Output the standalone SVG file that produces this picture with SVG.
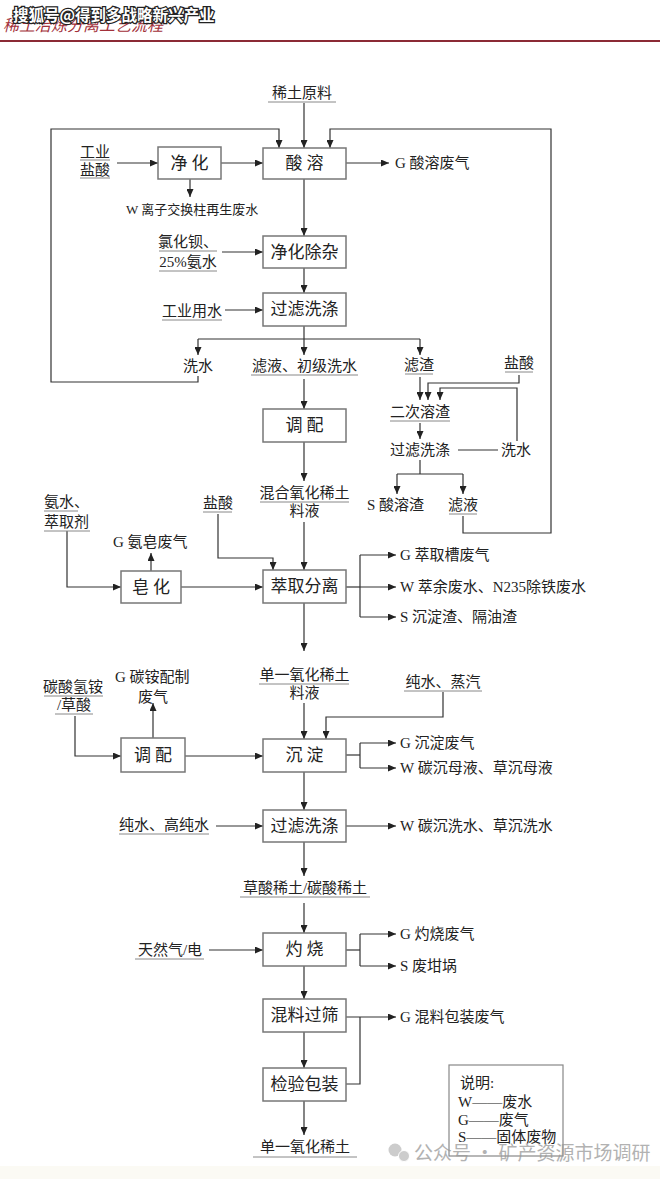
<svg xmlns="http://www.w3.org/2000/svg" width="660" height="1179" viewBox="0 0 660 1179">
<defs>
<marker id="ah" markerWidth="8" markerHeight="7" refX="8" refY="3.5" orient="auto" markerUnits="userSpaceOnUse"><path d="M0,0 L8,3.5 L0,7 z" fill="#222"/></marker>
<style>
text{font-family:"Liberation Serif","Noto Sans CJK SC",serif;fill:#222}
.box{fill:#fff;stroke:#777;stroke-width:1.5}
.bt{font-size:17px;text-anchor:middle;dominant-baseline:central}
.lb{font-size:15px;dominant-baseline:central}
.c{text-anchor:middle}
.sm{font-size:13px}
.ul{stroke:#888;stroke-width:1}
.cn line,.cn polyline{fill:none;stroke:#333;stroke-width:1.2}
.ar{marker-end:url(#ah)}
</style>
</defs>
<rect width="660" height="1179" fill="#fff"/>
<rect x="0" y="1166" width="660" height="13" fill="#fbfaf4"/>
<!-- header -->
<text x="3" y="31" font-size="16" font-style="italic" style="fill:#a3313a">稀土冶炼分离工艺流程</text>
<rect x="0" y="40" width="660" height="2" fill="#8b2a35"/>
<text x="13" y="21" font-size="15.5" font-weight="bold" style="fill:#fff;stroke:#222;stroke-width:2.5;paint-order:stroke;font-family:'Noto Sans CJK SC',sans-serif">搜狐号@得到多战略新兴产业</text>

<!-- connectors -->
<g id="connectors" class="cn">
<line class="ar" x1="304" y1="103" x2="304" y2="148"/>
<polyline class="ar" points="198,376 198,382 51,382 51,129 279,129 279,148"/>
<polyline class="ar" points="463,516 463,533 551,533 551,129 330,129 330,148"/>
<line class="ar" x1="117" y1="163" x2="158" y2="163"/>
<line class="ar" x1="221" y1="163" x2="263" y2="163"/>
<line class="ar" x1="190" y1="179" x2="190" y2="197"/>
<line class="ar" x1="346" y1="163" x2="389" y2="163"/>
<line class="ar" x1="304" y1="179" x2="304" y2="236"/>
<line class="ar" x1="222" y1="252" x2="263" y2="252"/>
<line class="ar" x1="304" y1="268" x2="304" y2="293"/>
<line class="ar" x1="225" y1="310" x2="263" y2="310"/>
<line x1="304" y1="326" x2="304" y2="339"/>
<line x1="198" y1="339" x2="420" y2="339"/>
<line class="ar" x1="198" y1="339" x2="198" y2="355"/>
<line class="ar" x1="304" y1="339" x2="304" y2="355"/>
<line class="ar" x1="420" y1="339" x2="420" y2="355"/>
<line class="ar" x1="304" y1="379" x2="304" y2="409"/>
<line class="ar" x1="420" y1="377" x2="420" y2="400"/>
<polyline class="ar" points="519,375 519,383 428,383 428,400"/>
<polyline class="ar" points="517,441 517,388 440,388 440,400"/>
<line class="ar" x1="420" y1="423" x2="420" y2="439"/>
<line x1="458" y1="450" x2="498" y2="450"/>
<line x1="420" y1="460" x2="420" y2="474"/>
<line x1="397" y1="474" x2="463" y2="474"/>
<line class="ar" x1="397" y1="474" x2="397" y2="494"/>
<line class="ar" x1="463" y1="474" x2="463" y2="494"/>
<line class="ar" x1="304" y1="442" x2="304" y2="481"/>
<line class="ar" x1="304" y1="522" x2="304" y2="570"/>
<polyline class="ar" points="218,514 218,558 273,558 273,570"/>
<polyline class="ar" points="67,531 67,587 121,587"/>
<line class="ar" x1="151" y1="571" x2="151" y2="553"/>
<line class="ar" x1="181" y1="587" x2="263" y2="587"/>
<line x1="346" y1="587" x2="360" y2="587"/>
<line x1="360" y1="555" x2="360" y2="617"/>
<line class="ar" x1="360" y1="555" x2="396" y2="555"/>
<line class="ar" x1="360" y1="587" x2="396" y2="587"/>
<line class="ar" x1="360" y1="617" x2="396" y2="617"/>
<line class="ar" x1="304" y1="603" x2="304" y2="651"/>
<line class="ar" x1="304" y1="703" x2="304" y2="739"/>
<polyline class="ar" points="443,692 443,717 326,717 326,739"/>
<polyline class="ar" points="75,716 75,756 121,756"/>
<line class="ar" x1="153" y1="738" x2="153" y2="703"/>
<line class="ar" x1="185" y1="756" x2="263" y2="756"/>
<line x1="346" y1="755" x2="360" y2="755"/>
<line x1="360" y1="743" x2="360" y2="768"/>
<line class="ar" x1="360" y1="743" x2="396" y2="743"/>
<line class="ar" x1="360" y1="768" x2="396" y2="768"/>
<line class="ar" x1="304" y1="772" x2="304" y2="810"/>
<line class="ar" x1="216" y1="826" x2="263" y2="826"/>
<line class="ar" x1="346" y1="826" x2="396" y2="826"/>
<line class="ar" x1="304" y1="842" x2="304" y2="876"/>
<line class="ar" x1="304" y1="903" x2="304" y2="933"/>
<line class="ar" x1="209" y1="950" x2="263" y2="950"/>
<line x1="346" y1="950" x2="360" y2="950"/>
<line x1="360" y1="934" x2="360" y2="966"/>
<line class="ar" x1="360" y1="934" x2="396" y2="934"/>
<line class="ar" x1="360" y1="966" x2="396" y2="966"/>
<line class="ar" x1="304" y1="966" x2="304" y2="999"/>
<line class="ar" x1="346" y1="1017" x2="396" y2="1017"/>
<polyline points="346,1084 360,1084 360,1017"/>
<line class="ar" x1="304" y1="1032" x2="304" y2="1068"/>
<line class="ar" x1="304" y1="1101" x2="304" y2="1135"/>
</g>

<!-- process nodes -->
<g id="n-suanrong"><rect class="box" x="263" y="148" width="83" height="31"/><text class="bt" x="304.5" y="163.5">酸 溶</text></g>
<g id="n-jinghua"><rect class="box" x="158" y="147" width="63" height="32"/><text class="bt" x="189.5" y="163">净 化</text></g>
<g id="n-jinghuachuza"><rect class="box" x="263" y="236" width="83" height="32"/><text class="bt" x="304.5" y="252">净化除杂</text></g>
<g id="n-guolv1"><rect class="box" x="263" y="293" width="83" height="33"/><text class="bt" x="304.5" y="309.5">过滤洗涤</text></g>
<g id="n-tiaopei1"><rect class="box" x="263" y="409" width="83" height="33"/><text class="bt" x="304.5" y="425.5">调 配</text></g>
<g id="n-cuiqu"><rect class="box" x="263" y="570" width="83" height="33"/><text class="bt" x="304.5" y="586.5">萃取分离</text></g>
<g id="n-zaohua"><rect class="box" x="121" y="571" width="60" height="32"/><text class="bt" x="151" y="587">皂 化</text></g>
<g id="n-chendian"><rect class="box" x="263" y="739" width="83" height="33"/><text class="bt" x="304.5" y="755.5">沉 淀</text></g>
<g id="n-tiaopei2"><rect class="box" x="121" y="738" width="64" height="34"/><text class="bt" x="153" y="755">调 配</text></g>
<g id="n-guolv2"><rect class="box" x="263" y="810" width="83" height="32"/><text class="bt" x="304.5" y="826">过滤洗涤</text></g>
<g id="n-zhuoshao"><rect class="box" x="263" y="933" width="83" height="33"/><text class="bt" x="304.5" y="949.5">灼 烧</text></g>
<g id="n-hunliao"><rect class="box" x="263" y="999" width="83" height="33"/><text class="bt" x="304.5" y="1015.5">混料过筛</text></g>
<g id="n-jianyan"><rect class="box" x="263" y="1068" width="83" height="33"/><text class="bt" x="304.5" y="1084.5">检验包装</text></g>

<!-- material / waste labels -->
<g id="t-yuanliao"><text class="lb c" x="302" y="93" font-size="17">稀土原料</text><line class="ul" x1="268" y1="102" x2="336" y2="102"/></g>
<g id="t-gongyeyansuan"><text class="lb c" x="95" y="152">工业</text><line class="ul" x1="80" y1="160" x2="110" y2="160"/><text class="lb c" x="95" y="170">盐酸</text><line class="ul" x1="80" y1="178" x2="110" y2="178"/></g>
<g id="t-w1"><text class="lb sm" x="126" y="209">W 离子交换柱再生废水</text></g>
<g id="t-g1"><text class="lb" x="395" y="163">G 酸溶废气</text></g>
<g id="t-lvhuabei"><text class="lb c" x="188" y="242">氯化钡、</text><line class="ul" x1="159" y1="251" x2="217" y2="251"/><text class="lb c" x="188" y="262">25%氨水</text><line class="ul" x1="159" y1="271" x2="217" y2="271"/></g>
<g id="t-gongyeyongshui"><text class="lb c" x="192" y="311">工业用水</text><line class="ul" x1="162" y1="320" x2="222" y2="320"/></g>
<g id="t-xishui1"><text class="lb c" x="198" y="366">洗水</text></g>
<g id="t-lvye1"><text class="lb c" x="304.5" y="366">滤液、初级洗水</text><line class="ul" x1="251" y1="375" x2="358" y2="375"/></g>
<g id="t-lvzha"><text class="lb c" x="419" y="365">滤渣</text><line class="ul" x1="405" y1="374" x2="433" y2="374"/></g>
<g id="t-yansuan2"><text class="lb c" x="519" y="363">盐酸</text><line class="ul" x1="505" y1="372" x2="533" y2="372"/></g>
<g id="t-ercirongzha"><text class="lb c" x="420" y="412">二次溶渣</text><line class="ul" x1="390" y1="421" x2="450" y2="421"/></g>
<g id="t-guolv3"><text class="lb c" x="420" y="450">过滤洗涤</text></g>
<g id="t-xishui2"><text class="lb c" x="516" y="450">洗水</text></g>
<g id="t-s1"><text class="lb" x="367" y="505">S 酸溶渣</text></g>
<g id="t-lvye2"><text class="lb c" x="463" y="505">滤液</text><line class="ul" x1="449" y1="514" x2="477" y2="514"/></g>
<g id="t-hunhe"><text class="lb c" x="304.5" y="493">混合氧化稀土</text><line class="ul" x1="260" y1="502" x2="349" y2="502"/><text class="lb c" x="304.5" y="511">料液</text></g>
<g id="t-yansuan3"><text class="lb c" x="218" y="503">盐酸</text><line class="ul" x1="203" y1="512" x2="232" y2="512"/></g>
<g id="t-anshui"><text class="lb" x="44" y="502">氨水、</text><line class="ul" x1="44" y1="511" x2="78" y2="511"/><text class="lb" x="44" y="522">萃取剂</text><line class="ul" x1="44" y1="531" x2="90" y2="531"/></g>
<g id="t-g2"><text class="lb" x="113" y="542">G 氨皂废气</text></g>
<g id="t-g3"><text class="lb" x="400" y="555">G 萃取槽废气</text></g>
<g id="t-w2"><text class="lb" x="400" y="587">W 萃余废水、N235除铁废水</text></g>
<g id="t-s2"><text class="lb" x="400" y="617">S 沉淀渣、隔油渣</text></g>
<g id="t-danyi1"><text class="lb c" x="304.5" y="675">单一氧化稀土</text><line class="ul" x1="259" y1="684" x2="349" y2="684"/><text class="lb c" x="304.5" y="693">料液</text></g>
<g id="t-chunshui1"><text class="lb c" x="443" y="682">纯水、蒸汽</text><line class="ul" x1="404" y1="691" x2="482" y2="691"/></g>
<g id="t-tansuan"><text class="lb c" x="73" y="687">碳酸氢铵</text><line class="ul" x1="44" y1="696" x2="103" y2="696"/><text class="lb c" x="74" y="705">/草酸</text><line class="ul" x1="55" y1="714" x2="93" y2="714"/></g>
<g id="t-g4"><text class="lb" x="115" y="677">G 碳铵配制</text><text class="lb c" x="153" y="697">废气</text></g>
<g id="t-g5"><text class="lb" x="400" y="743">G 沉淀废气</text></g>
<g id="t-w3"><text class="lb" x="400" y="768">W 碳沉母液、草沉母液</text></g>
<g id="t-chunshui2"><text class="lb c" x="164" y="825">纯水、高纯水</text><line class="ul" x1="119" y1="834" x2="209" y2="834"/></g>
<g id="t-w4"><text class="lb" x="400" y="826">W 碳沉洗水、草沉洗水</text></g>
<g id="t-caosuan"><text class="lb c" x="305" y="888">草酸稀土/碳酸稀土</text><line class="ul" x1="240" y1="897" x2="370" y2="897"/></g>
<g id="t-tianranqi"><text class="lb c" x="170" y="950">天然气/电</text><line class="ul" x1="135" y1="959" x2="204" y2="959"/></g>
<g id="t-g6"><text class="lb" x="400" y="934">G 灼烧废气</text></g>
<g id="t-s3"><text class="lb" x="400" y="966">S 废坩埚</text></g>
<g id="t-g7"><text class="lb" x="400" y="1017">G 混料包装废气</text></g>
<g id="t-danyi2"><text class="lb c" x="305" y="1147" font-size="17">单一氧化稀土</text><line class="ul" x1="253" y1="1157" x2="357" y2="1157"/></g>

<!-- legend -->
<g id="legend">
<rect x="449" y="1065" width="114" height="91" fill="#fff" stroke="#888" stroke-width="1.2"/>
<text class="lb" x="460" y="1083" font-size="14">说明:</text>
<text class="lb" x="458" y="1102" font-size="14">W——废水</text>
<text class="lb" x="458" y="1120" font-size="14">G——废气</text>
<text class="lb" x="458" y="1137" font-size="14">S——固体废物</text>
</g>

<!-- bottom watermark -->
<g id="watermark" opacity="0.75">
<circle cx="395" cy="1150" r="6.5" fill="#bbb"/>
<circle cx="404" cy="1156" r="5.5" fill="#bbb" stroke="#fff" stroke-width="1"/>
<text x="414" y="1160" font-size="19" style="fill:#999;font-family:'Noto Sans CJK SC',sans-serif">公众号 · 矿产资源市场调研</text>
</g>
</svg>
